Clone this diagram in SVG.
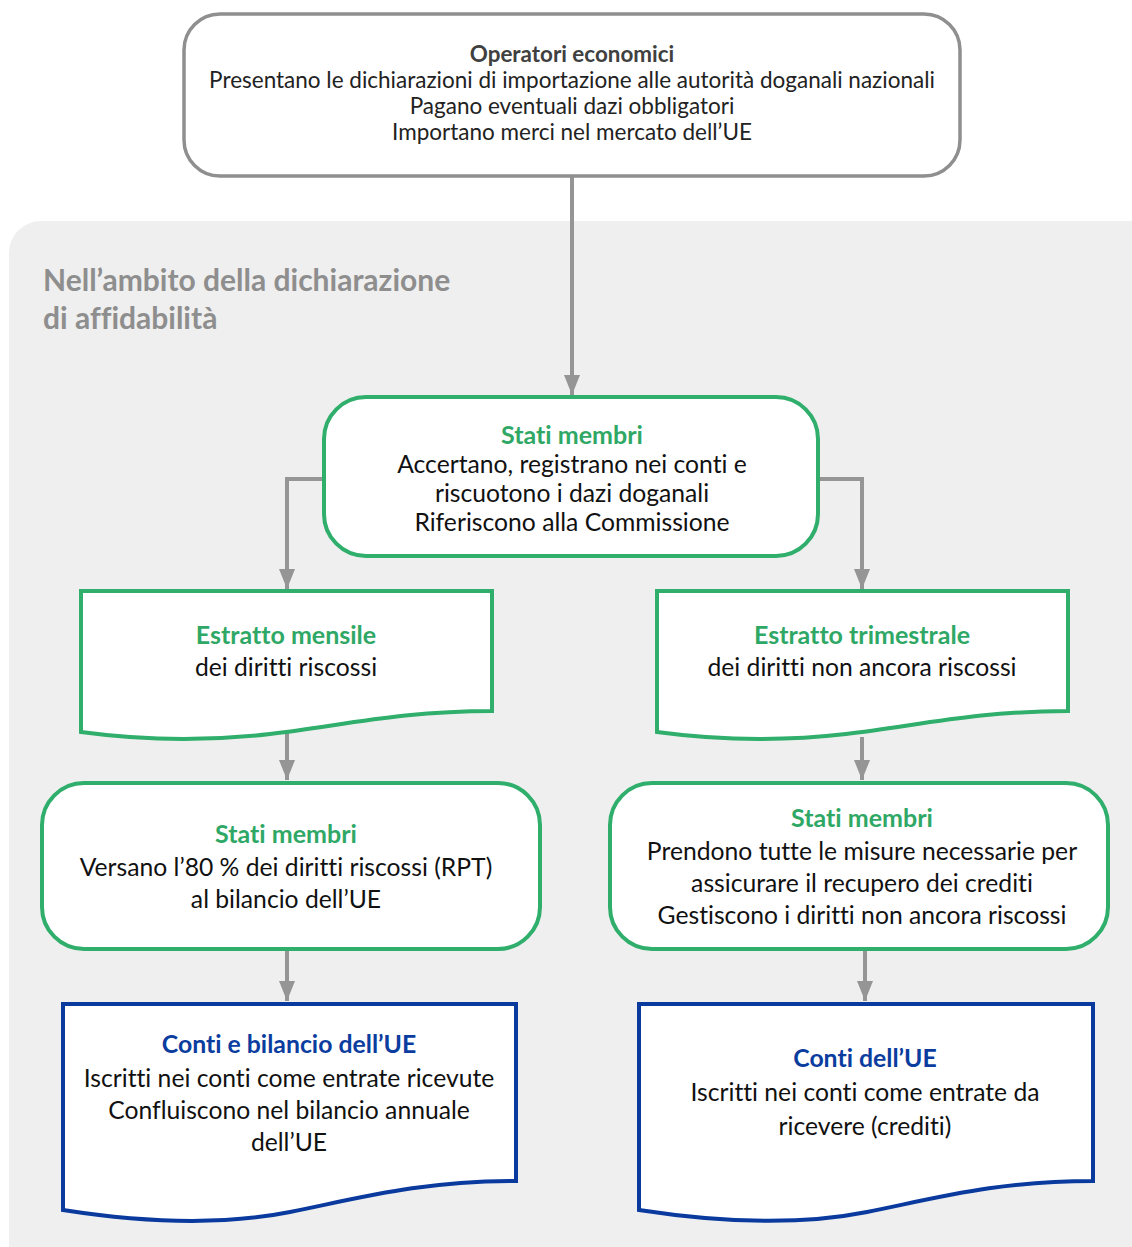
<svg xmlns="http://www.w3.org/2000/svg" width="1132" height="1247" viewBox="0 0 1132 1247">
  <defs>
    <marker id="head" viewBox="0 0 20 16" refX="20" refY="8" markerWidth="20" markerHeight="16" markerUnits="userSpaceOnUse" orient="auto">
      <path d="M0,0 L20,8 L0,16 Z" fill="#959595"/>
    </marker>
  </defs>
  <style>
    text { font-family: Lato, "Open Sans", "Liberation Sans", sans-serif; text-anchor: middle; font-variant-ligatures: none; }
    .body { fill: #111111; font-size: 24.7px; }
    .top { fill: #222222; font-size: 22.5px; }
    .topT { fill: #404040; font-size: 22.4px; font-weight: bold; }
    .gT { fill: #2fa866; font-size: 25px; font-weight: bold; }
    .bT { fill: #0b3d9f; font-size: 24.8px; font-weight: bold; }
    .gbox { fill: #ffffff; stroke: #2fae6c; stroke-width: 4; }
    .bbox { fill: #ffffff; stroke: #0a3a9e; stroke-width: 4; }
    .conn { fill: none; stroke: #959595; stroke-width: 4; marker-end: url(#head); }
  </style>

  <rect x="0" y="0" width="1132" height="1247" fill="#ffffff"/>
  <!-- scope panel -->
  <rect x="9" y="221" width="1170" height="1060" rx="32" fill="#efefef"/>
  <text x="43" y="291" style="text-anchor:start;font-size:30px;font-weight:bold;fill:#8e8e8e">Nell’ambito della dichiarazione</text>
  <text x="43" y="329" style="text-anchor:start;font-size:30px;font-weight:bold;fill:#8e8e8e">di affidabilità</text>

  <!-- connectors -->
  <g id="connectors">
    <path class="conn" d="M572,177 V395"/>
    <path class="conn" d="M323,479 H287 V589"/>
    <path class="conn" d="M819,479 H862 V589"/>
    <path class="conn" d="M287,733 V780"/>
    <path class="conn" d="M862,737 V780"/>
    <path class="conn" d="M287,951 V1001"/>
    <path class="conn" d="M865,951 V1001"/>
  </g>

  <g id="operatori">
    <rect x="184" y="14" width="776" height="162" rx="36" fill="#ffffff" stroke="#8f8f8f" stroke-width="3.5"/>
    <text class="topT" x="572" y="62">Operatori economici</text>
    <text class="top" x="572" y="88">Presentano le dichiarazioni di importazione alle autorità doganali nazionali</text>
    <text class="top" x="572" y="114">Pagano eventuali dazi obbligatori</text>
    <text class="top" x="572" y="140">Importano merci nel mercato dell’UE</text>
  </g>

  <g id="stati-membri">
    <rect class="gbox" x="324" y="397" width="494" height="159" rx="42"/>
    <text class="gT" x="572" y="444">Stati membri</text>
    <text class="body" x="572" y="473">Accertano, registrano nei conti e</text>
    <text class="body" x="572" y="502">riscuotono i dazi doganali</text>
    <text class="body" x="572" y="531">Riferiscono alla Commissione</text>
  </g>

  <g id="estratto-mensile">
    <path class="gbox" d="M81,591 H492 V711 C400,711 340,726 270,734 C200,742 140,740 81,732 Z"/>
    <text class="gT" x="286" y="644">Estratto mensile</text>
    <text class="body" x="286" y="676">dei diritti riscossi</text>
  </g>

  <g id="estratto-trimestrale">
    <path class="gbox" d="M657,591 H1068 V711 C976,711 916,726 846,734 C776,742 716,740 657,732 Z"/>
    <text class="gT" x="862" y="644">Estratto trimestrale</text>
    <text class="body" x="862" y="676">dei diritti non ancora riscossi</text>
  </g>

  <g id="stati-membri-rpt">
    <rect class="gbox" x="42" y="783" width="498" height="166" rx="42"/>
    <text class="gT" x="286" y="843">Stati membri</text>
    <text class="body" x="286" y="876">Versano l’80 % dei diritti riscossi (RPT)</text>
    <text class="body" x="286" y="908">al bilancio dell’UE</text>
  </g>

  <g id="stati-membri-recupero">
    <rect class="gbox" x="610" y="783" width="498" height="166" rx="42"/>
    <text class="gT" x="862" y="827">Stati membri</text>
    <text class="body" x="862" y="860">Prendono tutte le misure necessarie per</text>
    <text class="body" x="862" y="892">assicurare il recupero dei crediti</text>
    <text class="body" x="862" y="924">Gestiscono i diritti non ancora riscossi</text>
  </g>

  <g id="conti-bilancio">
    <path class="bbox" d="M63,1004 H516 V1181 C420,1181 360,1198 290,1212 C220,1226 140,1222 63,1210 Z"/>
    <text class="bT" x="289" y="1053">Conti e bilancio dell’UE</text>
    <text class="body" x="289" y="1087">Iscritti nei conti come entrate ricevute</text>
    <text class="body" x="289" y="1119">Confluiscono nel bilancio annuale</text>
    <text class="body" x="289" y="1151">dell’UE</text>
  </g>

  <g id="conti-ue">
    <path class="bbox" d="M639,1004 H1093 V1181 C997,1181 937,1198 867,1212 C797,1226 717,1222 639,1210 Z"/>
    <text class="bT" x="865" y="1067">Conti dell’UE</text>
    <text class="body" x="865" y="1101">Iscritti nei conti come entrate da</text>
    <text class="body" x="865" y="1135">ricevere (crediti)</text>
  </g>
</svg>
